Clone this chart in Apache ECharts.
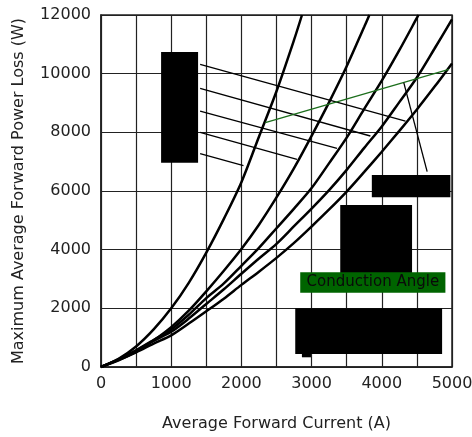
<!DOCTYPE html>
<html>
<head>
<meta charset="utf-8">
<script src="https://cdn.jsdelivr.net/npm/echarts@6/dist/echarts.min.js"></script>
<style>
html,body{margin:0;padding:0;background:#fff;}
#chart{width:472px;height:437px;}
</style>
</head>
<body>
<div id="chart"></div>
<script>
// Tick values
const xTicks = [0, 1000, 2000, 3000, 4000, 5000];
const yTicks = [0, 2000, 4000, 6000, 8000, 10000, 12000];

// Curve 1 (steepest)
const c1X = [0, 250, 500, 750, 1000, 1250, 1500, 1750, 2000, 2250, 2500, 2750, 2863];
const c1Y = [0, 280, 700, 1280, 2000, 2870, 3900, 5050, 6300, 7850, 9400, 11150, 12000];
// Curve 2
const c2X = [0, 250, 500, 750, 1000, 1250, 1500, 1750, 2000, 2250, 2500, 2750, 3000, 3250, 3500, 3750, 3823];
const c2Y = [0, 225, 525, 910, 1360, 1920, 2580, 3280, 4020, 4850, 5780, 6780, 7880, 9030, 10250, 11600, 12000];
// Curve 3
const c3X = [0, 250, 500, 750, 1000, 1250, 1500, 1750, 2000, 2250, 2500, 2750, 3000, 3250, 3500, 3750, 4000, 4250, 4500, 4522];
const c3Y = [0, 260, 570, 920, 1280, 1780, 2350, 2850, 3450, 4060, 4730, 5400, 6100, 6950, 7820, 8800, 9760, 10800, 11900, 12000];
// Curve 4
const c4X = [0, 250, 500, 750, 1000, 1250, 1500, 1750, 2000, 2250, 2500, 2750, 3000, 3250, 3500, 3750, 4000, 4250, 4500, 4750, 5000];
const c4Y = [0, 260, 560, 890, 1200, 1650, 2150, 2650, 3180, 3700, 4200, 4800, 5400, 6030, 6720, 7470, 8200, 9030, 9870, 10850, 11850];
// Curve 5 (lowest)
const c5X = [0, 250, 500, 750, 1000, 1250, 1500, 1750, 2000, 2250, 2500, 2750, 3000, 3250, 3500, 3750, 4000, 4250, 4500, 4750, 5000];
const c5Y = [0, 240, 500, 800, 1080, 1480, 1900, 2330, 2800, 3250, 3720, 4230, 4790, 5370, 5980, 6650, 7340, 8050, 8780, 9550, 10350];

// Annotation boxes (data coords): [x1, y1, x2, y2]
const boxLeft = [856, 10740, 1383, 6965];
const boxRightTop = [3858, 6545, 4977, 5785];
const boxMid = [3408, 5523, 4431, 3194];
const boxBottom = [2767, 2001, 4859, 443];
const boxNotch = [2862, 443, 2991, 331];
const labelBox = [2838, 3228, 4906, 2533];
const labelText = 'Conduction Angle';

// Leader lines: [x1, y1, x2, y2]
const leaders = [
  [1412, 10320, 4337, 8386],
  [1412, 9500, 3837, 7875],
  [1412, 8727, 3362, 7455],
  [1412, 8000, 2792, 7081],
  [1412, 7271, 2030, 6862]
];
const greenLine = [2340, 8329, 4955, 10150];
const pointerLine = [4313, 9692, 4646, 6658];

const FONT = 'DejaVu Sans';
const zip = (xs, ys) => xs.map((x, i) => [x, ys[i]]);
const curves = [[c1X, c1Y], [c2X, c2Y], [c3X, c3Y], [c4X, c4Y], [c5X, c5Y]];

const box = (b, color) => [{ coord: [b[0], b[1]], itemStyle: { color: color, opacity: 1 } }, { coord: [b[2], b[3]] }];
const seg = (s, color) => [{ coord: [s[0], s[1]], lineStyle: { color: color, width: 1.3, type: 'solid' } }, { coord: [s[2], s[3]] }];

const series = curves.map(c => ({
  type: 'line',
  data: zip(c[0], c[1]),
  symbol: 'none',
  smooth: 0.3,
  lineStyle: { color: '#000', width: 2.5 },
  silent: true,
  z: 3
}));

series.push({
  type: 'line',
  data: [[0, 0]],
  symbol: 'none',
  lineStyle: { opacity: 0 },
  silent: true,
  z: 5,
  markLine: {
    silent: true,
    symbol: ['none', 'none'],
    label: { show: false },
    animation: false,
    data: leaders.map(l => seg(l, '#000'))
      .concat([seg(greenLine, '#1c6e1c'), seg(pointerLine, '#000')])
  },
  markArea: {
    silent: true,
    animation: false,
    data: [
      box(boxLeft, '#000'),
      box(boxRightTop, '#000'),
      box(boxMid, '#000'),
      box(boxBottom, '#000'),
      box(boxNotch, '#000'),
      [{
        coord: [labelBox[0], labelBox[1]],
        itemStyle: { color: '#006400', opacity: 1 },
        label: { show: true, position: 'inside', formatter: labelText, color: '#0a0a0a', fontSize: 15, fontFamily: FONT }
      }, { coord: [labelBox[2], labelBox[3]] }]
    ]
  }
});

const plain = v => String(v);

const chart = echarts.init(document.getElementById('chart'), null, { renderer: 'canvas' });
chart.setOption({
  animation: false,
  backgroundColor: '#fff',
  grid: { left: 101, right: 20, top: 15, bottom: 70, containLabel: false, outerBoundsMode: 'none',
          show: true, borderColor: '#222', borderWidth: 1.5 },
  xAxis: {
    type: 'value', min: xTicks[0], max: xTicks[xTicks.length - 1], interval: 1000,
    name: 'Average Forward Current (A)', nameLocation: 'middle', nameGap: 49,
    nameTextStyle: { fontFamily: FONT, fontSize: 16, color: '#222' },
    axisLine: { show: true, lineStyle: { color: '#222', width: 1.5 } },
    axisTick: { show: false },
    axisLabel: { fontFamily: FONT, fontSize: 16, color: '#222', margin: 9, formatter: plain },
    splitLine: { show: true, lineStyle: { color: '#222', width: 1.2 } },
    minorTick: { show: false, splitNumber: 2 },
    minorSplitLine: { show: true, lineStyle: { color: '#222', width: 1.2 } }
  },
  yAxis: {
    type: 'value', min: yTicks[0], max: yTicks[yTicks.length - 1], interval: 2000,
    name: 'Maximum Average Forward Power Loss (W)', nameLocation: 'middle', nameGap: 74,
    nameTextStyle: { fontFamily: FONT, fontSize: 16, color: '#222' },
    axisLine: { show: true, lineStyle: { color: '#222', width: 1.5 } },
    axisTick: { show: false },
    axisLabel: { fontFamily: FONT, fontSize: 16, color: '#222', margin: 10, formatter: plain },
    splitLine: { show: true, lineStyle: { color: '#222', width: 1.2 } }
  },
  series: series
});
</script>
</body>
</html>
